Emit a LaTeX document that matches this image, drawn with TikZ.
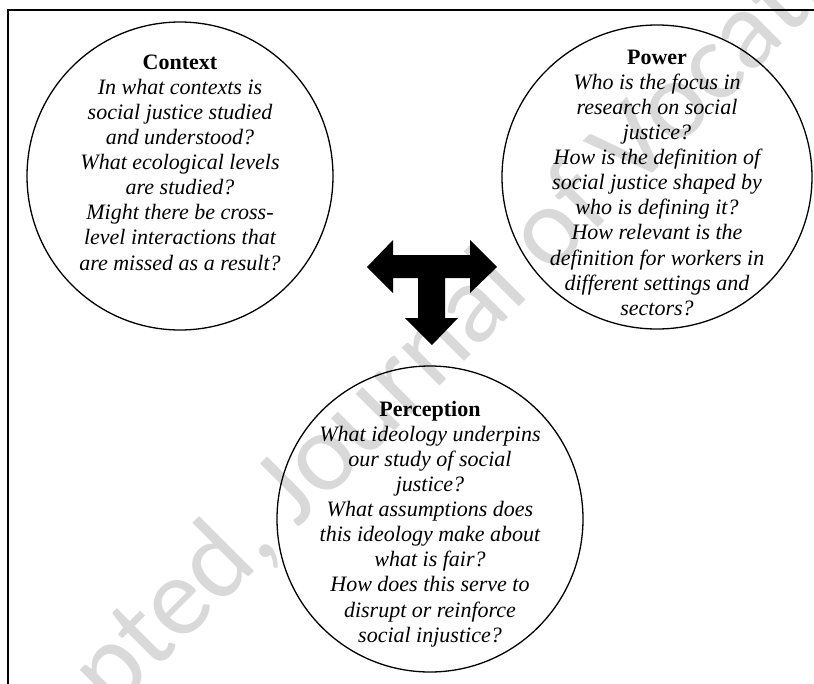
\documentclass[tikz,border=0pt]{standalone}
\usepackage{fontspec}
\setmainfont{Liberation Serif}
\newfontfamily\wmfont{Carlito}
\usetikzlibrary{shapes.geometric}
\tikzset{
  ring/.style={draw=black, line width=1.3pt, ellipse, inner sep=0pt},
  qtext/.style={anchor=north, inner sep=0pt, align=center,
     font=\fontsize{22}{25.1}\selectfont\itshape},
  frameline/.style={line width=1.3pt},
  watermark/.style={font=\wmfont\fontsize{112}{112}\selectfont, text=black!15,
     rotate=45, anchor=base west, inner sep=0pt}
}
\newcommand{\ttl}[1]{\rule{0pt}{16pt}\textbf{\upshape #1}}
\begin{document}
\begin{tikzpicture}[x=1pt,y=-1pt]
\useasboundingbox (0,0) rectangle (814,683);
\begin{scope}
\clip (0,0) rectangle (814,683);
\node[watermark] (wm) at (-40,866) {Accepted, Journal of Vocational Behavior};
\end{scope}
\draw[frameline] (8,690) -- (8,10) -- (820,10);
% circles
\node[ring, minimum width=306pt, minimum height=308pt] (ctx) at (180,176) {};
\node[ring, minimum width=310pt, minimum height=304pt] (pow) at (657,177) {};
\node[ring, minimum width=306pt, minimum height=306pt] (per) at (430,519) {};
% texts
\node[qtext] (ctxt) at (180,53) {\ttl{Context}\\In what contexts is\\social justice studied\\and understood?\\What ecological levels\\are studied?\\Might there be cross-\\level interactions that\\are missed as a result?};
\node[qtext] (powt) at (657,48) {\ttl{Power}\\Who is the focus in\\research on social\\justice?\\How is the definition of\\social justice shaped by\\who is defining it?\\How relevant is the\\definition for workers in\\different settings and\\sectors?};
\node[qtext] (pert) at (430,400) {\ttl{Perception}\\What ideology underpins\\our study of social\\justice?\\What assumptions does\\this ideology make about\\what is fair?\\How does this serve to\\disrupt or reinforce\\social injustice?};
% T-shaped arrow
\fill[black] (367,267) -- (393,240) -- (393,255) -- (470,255) -- (470,240) -- (497,267)
  -- (470,293) -- (470,278) -- (445,278) -- (445,318) -- (458,318) -- (432,345)
  -- (405,318) -- (418,318) -- (418,278) -- (393,278) -- (393,293) -- cycle;
\end{tikzpicture}
\end{document}
